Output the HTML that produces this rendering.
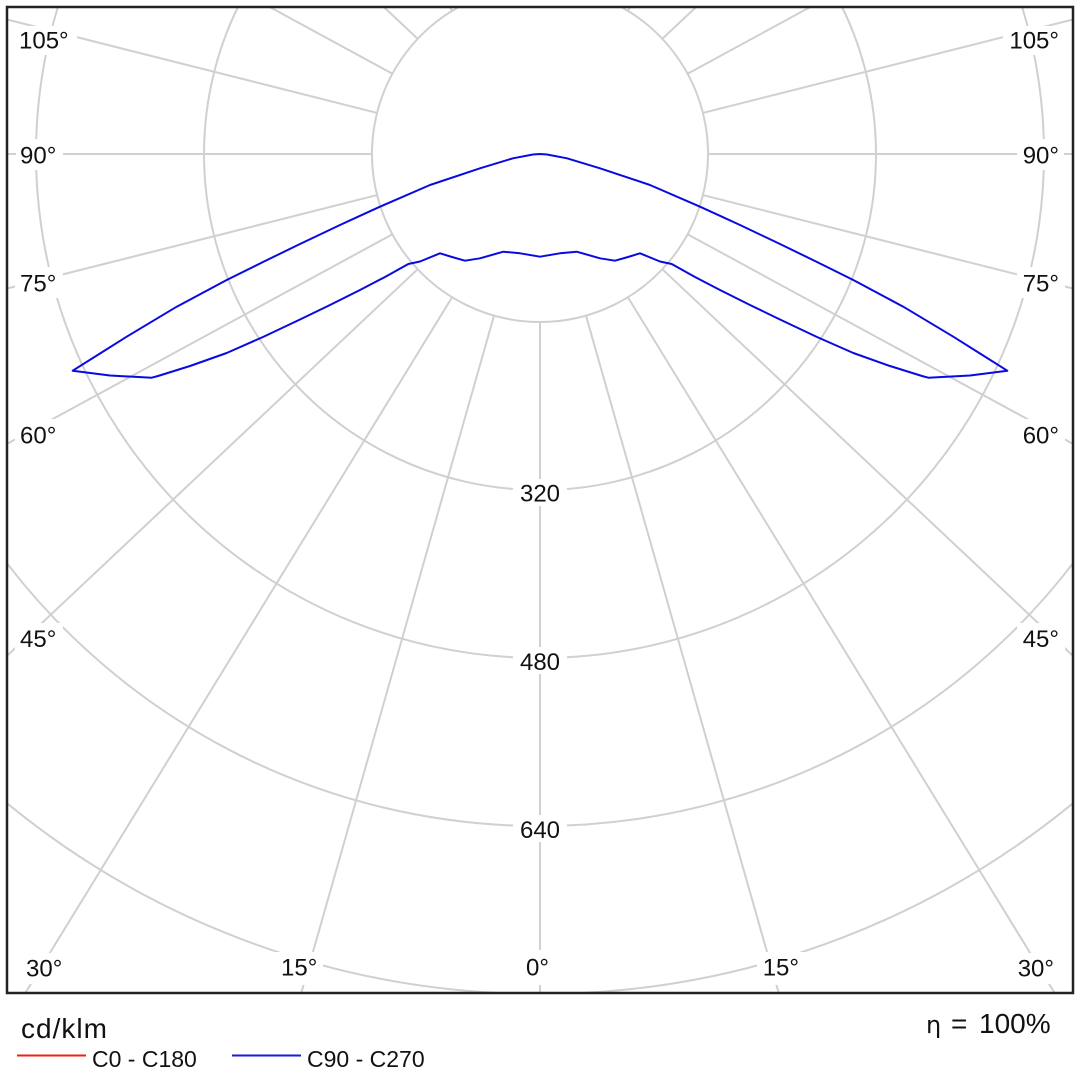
<!DOCTYPE html>
<html>
<head>
<meta charset="utf-8">
<style>
  html, body { margin: 0; padding: 0; background: #ffffff; width: 1080px; height: 1080px; overflow: hidden; }
  svg { display: block; }
  .lbl { font-family: "Liberation Sans", "DejaVu Sans", sans-serif; font-size: 24px; fill: #111111; }
  .leg { font-family: "Liberation Sans", "DejaVu Sans", sans-serif; font-size: 23px; fill: #111111; }
</style>
</head>
<body>
<svg width="1080" height="1080" viewBox="0 0 1080 1080" xmlns="http://www.w3.org/2000/svg">
  <rect x="0" y="0" width="1080" height="1080" fill="#ffffff"/>

  <!-- Grid -->
  <g fill="none" stroke="#d0d0d0" stroke-width="2">
    <path d="M458.7,7 A168,168 0 1 0 621.3,7"/>
    <path d="M237.9,7 A336,336 0 1 0 842.1,7"/>
    <path d="M57.9,7 A504,504 0 1 0 1022.1,7"/>
    <path d="M7,563.3 A672,672 0 0 0 1073,563.3"/>
    <path d="M7,803.2 A840,840 0 0 0 499,993"/>
    <path d="M581,993 A840,840 0 0 0 1073,803.2"/>
    <!-- radial lines -->
    <line x1="540" y1="322" x2="540" y2="993"/>
    <line x1="494.04" y1="315.58" x2="301.3" y2="993"/>
    <line x1="585.96" y1="315.58" x2="778.7" y2="993"/>
    <line x1="452.15" y1="297.2" x2="25.3" y2="993"/>
    <line x1="627.85" y1="297.2" x2="1054.7" y2="993"/>
    <line x1="417.7" y1="269.18" x2="7" y2="655.9"/>
    <line x1="662.3" y1="269.18" x2="1073" y2="655.9"/>
    <line x1="392.41" y1="234.27" x2="7" y2="443.9"/>
    <line x1="687.59" y1="234.27" x2="1073" y2="443.9"/>
    <line x1="377.11" y1="195.09" x2="7" y2="288.5"/>
    <line x1="702.89" y1="195.09" x2="1073" y2="288.5"/>
    <line x1="372" y1="154" x2="7" y2="154"/>
    <line x1="708" y1="154" x2="1073" y2="154"/>
    <line x1="377.11" y1="112.91" x2="7" y2="19.5"/>
    <line x1="702.89" y1="112.91" x2="1073" y2="19.5"/>
    <line x1="392.41" y1="73.73" x2="269.7" y2="7"/>
    <line x1="687.59" y1="73.73" x2="810.3" y2="7"/>
    <line x1="417.7" y1="38.82" x2="383.9" y2="7"/>
    <line x1="662.3" y1="38.82" x2="696.1" y2="7"/>
    <line x1="452.15" y1="10.8" x2="449.8" y2="7"/>
    <line x1="627.85" y1="10.8" x2="630.2" y2="7"/>
  </g>

  <!-- Label masks -->
  <g fill="#ffffff">
    <rect x="15" y="26" width="62" height="29"/>
    <rect x="16" y="139" width="47" height="31"/>
    <rect x="15" y="267" width="48" height="31"/>
    <rect x="15" y="419" width="48" height="31"/>
    <rect x="15" y="623" width="48" height="31"/>
    <rect x="20" y="953" width="50" height="31"/>
    <rect x="1003" y="26" width="62" height="29"/>
    <rect x="1017" y="139" width="47" height="31"/>
    <rect x="1017" y="267" width="48" height="31"/>
    <rect x="1017" y="419" width="48" height="31"/>
    <rect x="1017" y="623" width="48" height="31"/>
    <rect x="1010" y="953" width="50" height="31"/>
    <rect x="276" y="952" width="47" height="33"/>
    <rect x="757" y="952" width="47" height="33"/>
    <rect x="521" y="950" width="36" height="35"/>
    <rect x="513" y="479" width="54" height="27"/>
    <rect x="513" y="647" width="54" height="27"/>
    <rect x="513" y="815" width="54" height="27"/>
  </g>

  <!-- Angle labels -->
  <g class="lbl">
    <text x="19" y="48.5">105°</text>
    <text x="20" y="163.5">90°</text>
    <text x="20" y="291.5">75°</text>
    <text x="20" y="443.5">60°</text>
    <text x="20" y="647">45°</text>
    <text x="26" y="976.5">30°</text>
    <text x="281" y="975.5">15°</text>
    <text x="526" y="975.5">0°</text>
    <text x="799" y="975.5" text-anchor="end">15°</text>
    <text x="1054" y="976.5" text-anchor="end">30°</text>
    <text x="1059" y="48.5" text-anchor="end">105°</text>
    <text x="1059" y="163.5" text-anchor="end">90°</text>
    <text x="1059" y="291.5" text-anchor="end">75°</text>
    <text x="1059" y="443.5" text-anchor="end">60°</text>
    <text x="1059" y="647" text-anchor="end">45°</text>
    <text x="540" y="501.5" text-anchor="middle">320</text>
    <text x="540" y="670" text-anchor="middle">480</text>
    <text x="540" y="838" text-anchor="middle">640</text>
  </g>

  <!-- C90 - C270 curve -->
  <path fill="none" stroke="#0a0ae0" stroke-width="2" stroke-linejoin="round"
    d="M72.7,370.7 L100,353.5 L126.7,336.7 L176.7,306.7 L226.7,280 L263,262 L300,244 L340,225 L360,215.8 L380,206.7 L430,185 L480,168.3 L513,158.3 L533,154.5 L540,154
       L547,154.5 L567,158.3 L600,168.3 L650,185 L700,206.7 L720,215.8 L740,225 L780,244 L817,262 L853.3,280 L903.3,306.7 L953.3,336.7 L980,353.5 L1007.3,370.7
       L970,375.5 L928.3,377.7 L922,376 L890,366 L853.3,353 L817,337 L780,319.5 L750,305 L720,290 L695,277 L671.7,264 L660,261.5 L640,253.3 L628,257 L615,260.7 L600,258.3 L576.7,251.7 L560,253.3 L540,256.7
       L520,253.3 L503.3,251.7 L480,258.3 L465,260.7 L452,257 L440,253.3 L420,261.5 L408.3,264 L385,277 L360,290 L330,305 L300,319.5 L263,337 L226.7,353 L190,366 L158,376 L151.7,377.7 L110,375.5 Z"/>

  <!-- Frame -->
  <rect x="7" y="7" width="1066" height="986" fill="none" stroke="#222222" stroke-width="2.5"/>

  <!-- Legend -->
  <text x="21" y="1038" font-family="Liberation Sans, DejaVu Sans, sans-serif" font-size="28" letter-spacing="1" fill="#111111">cd/klm</text>
  <line x1="17" y1="1055.5" x2="86" y2="1055.5" stroke="#ee1c1c" stroke-width="2"/>
  <text x="92" y="1067" class="leg">C0 - C180</text>
  <line x1="232" y1="1055.5" x2="301" y2="1055.5" stroke="#1a1ae0" stroke-width="2"/>
  <text x="307" y="1067" class="leg">C90 - C270</text>

  <text x="926" y="1033" font-family="DejaVu Sans, sans-serif" font-size="24" fill="#111111">η</text>
  <text x="951" y="1033" font-family="Liberation Sans, sans-serif" font-size="28" fill="#111111">=</text>
  <text x="979" y="1033" font-family="Liberation Sans, sans-serif" font-size="28" fill="#111111">100%</text>
</svg>
</body>
</html>
